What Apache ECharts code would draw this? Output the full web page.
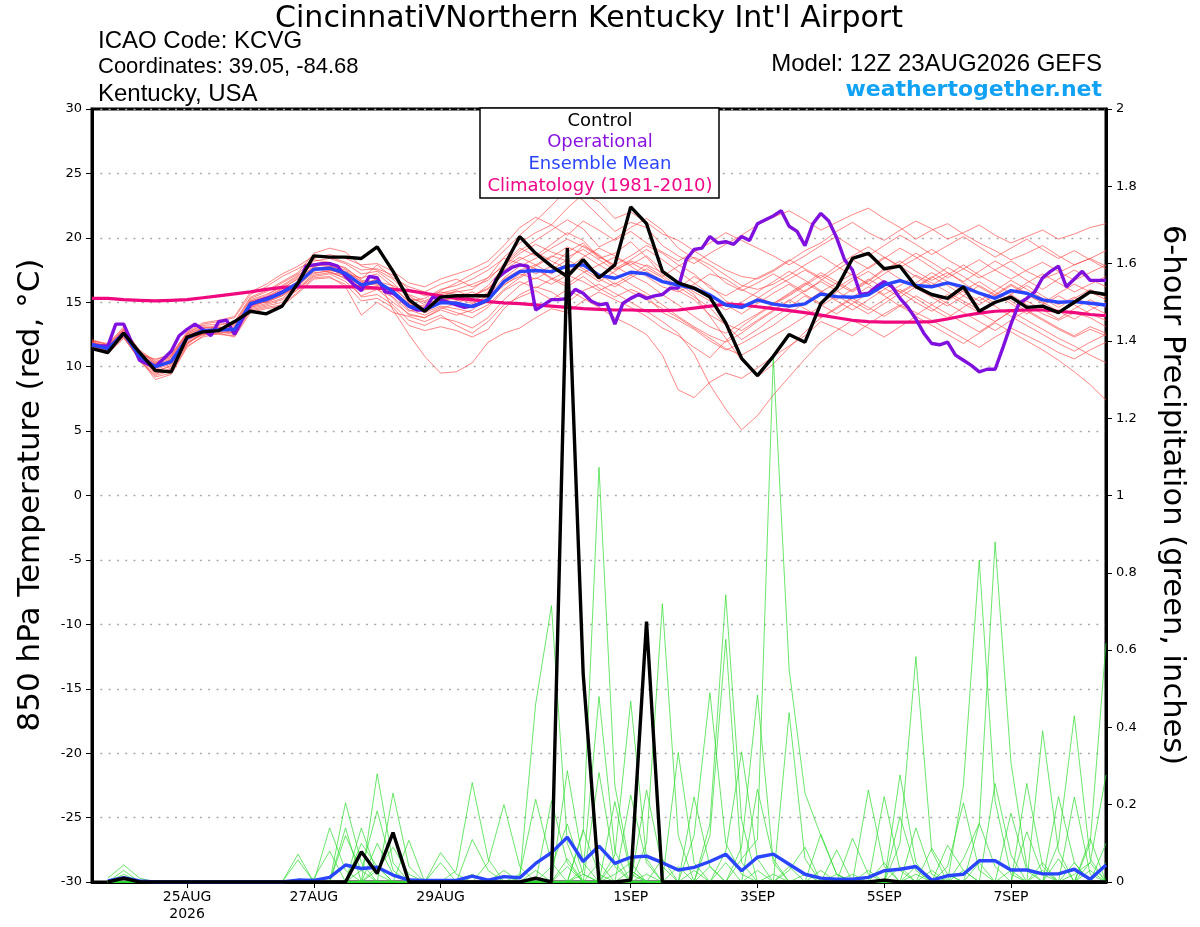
<!DOCTYPE html>
<html><head><meta charset="utf-8">
<script src="https://cdn.jsdelivr.net/npm/echarts@6/dist/echarts.min.js"></script>
<style>html,body{margin:0;padding:0;background:#fff}#c{width:1200px;height:927px}</style>
</head><body><div id="c"></div>
<script>
const FONT = '"DejaVu Sans", "Liberation Sans", Arial, sans-serif';
const FONT2 = '"Liberation Sans", Arial, Helvetica, sans-serif';
// x-axis (forecast hours from 12Z 23AUG2026)
const tickHours = [36, 84, 132, 204, 252, 300, 348];
const tickLabels = ['25AUG\n2026', '27AUG', '29AUG', '1SEP', '3SEP', '5SEP', '7SEP'];
const STEP = 6;      // member / control / mean step, hours
const OPER_STEP = 3; // operational step, hours

// 850 hPa temperature (°C), 6-hourly from 0h
const controlTemp = [11.4,11.1,12.6,11.1,9.7,9.6,12.3,12.7,12.8,13.5,14.3,14.1,14.7,16.5,18.6,18.5,18.5,18.4,19.3,17.4,15.2,14.3,15.4,
 15.5,15.5,15.5,17.8,20.1,18.8,17.8,17.0,18.3,16.9,17.9,22.4,21.1,17.4,16.5,16.1,15.4,13.4,10.65,9.3,
 10.8,12.5,11.9,14.9,16.1,18.4,18.8,17.6,17.8,16.2,15.6,15.3,16.2,14.3,15.0,15.4,14.6,14.7,14.2,15.0,15.8,15.6];
const meanTemp = [11.7,11.4,12.6,10.8,10.0,10.4,12.2,12.8,12.85,12.9,14.9,15.2,15.75,16.5,17.56,17.64,17.25,16.34,16.6,15.82,14.7,14.4,14.97,
 14.92,14.66,15.18,16.6,17.38,17.46,17.38,17.8,17.9,17.1,16.86,17.33,17.2,16.6,16.34,16.08,15.57,14.79,14.6,15.18,
 14.85,14.7,14.87,15.64,15.44,15.39,15.57,16.34,16.68,16.3,16.2,16.5,16.2,15.7,15.31,15.9,15.7,15.18,15.0,15.05,14.92,14.79];
const climTemp = [15.3,15.3,15.2,15.15,15.1,15.15,15.2,15.35,15.5,15.65,15.8,16.0,16.15,16.2,16.2,16.2,16.2,16.2,16.1,16.0,15.9,15.7,15.5,
 15.3,15.2,15.05,14.95,14.9,14.8,14.7,14.6,14.5,14.45,14.4,14.4,14.35,14.35,14.4,14.55,14.7,14.85,14.8,14.65,
 14.5,14.35,14.2,14.0,13.8,13.6,13.5,13.45,13.45,13.45,13.5,13.7,13.95,14.15,14.3,14.35,14.4,14.4,14.3,14.2,14.05,13.95];
// operational, 3-hourly from 0h
const operTemp = [11.7,11.6,11.6,13.3,13.3,11.9,10.5,10.2,10.0,10.6,
 11.2,12.4,12.9,13.3,12.9,12.4,13.5,13.6,12.5,13.7,
 14.8,15.1,15.3,15.5,15.8,16.1,16.3,17.8,17.9,18.0,
 18.0,17.8,17.0,16.4,15.9,17.0,16.9,15.8,15.7,15.2,
 14.7,14.4,14.4,15.4,15.2,15.0,14.8,14.6,14.7,14.9,
 15.2,16.8,17.3,17.7,17.9,17.8,14.4,14.8,15.2,15.2,
 15.3,16.0,15.7,15.1,14.8,14.9,13.3,14.9,15.3,15.6,
 15.3,15.5,15.6,16.1,16.1,18.3,19.1,19.2,20.1,19.6,
 19.7,19.5,20.1,19.8,21.1,21.4,21.7,22.1,20.9,20.5,
 19.4,21.1,21.9,21.3,20.0,18.3,17.5,15.6,15.7,16.2,
 16.6,16.2,15.3,14.6,13.7,12.6,11.8,11.7,11.9,10.9,
 10.5,10.1,9.6,9.8,9.8,11.5,13.3,14.9,15.3,15.8,
 16.9,17.4,17.8,16.2,16.8,17.4,16.7,16.7,16.7];

// ensemble members, temperature (6-hourly from 0h)
const t01 = [11.9,11.6,12.9,11.2,10.3,10.8,12.5,13.1,13.0,13.3,15.2,15.6,16.2,17.0,18.2,18.4,18.0,17.2,17.4,16.5,15.3,15.0,15.6,15.8,16.0,16.9,18.5,19.6,20.4,21.0,22.3,23.4,22.8,21.5,22.0,21.2,20.3,19.8,19.0,18.2,17.5,17.0,16.8,17.4,18.2,19.0,19.6,20.5,21.2,20.4,19.8,20.6,21.3,20.7,19.9,20.4,21.0,20.2,19.6,20.1,20.6,19.9,20.3,20.8,21.1];
const t02 = [11.6,11.2,12.4,10.5,9.4,9.9,11.8,12.5,12.9,12.6,14.5,14.8,15.2,16.0,17.0,17.2,16.6,15.5,16.0,15.0,14.1,13.8,14.5,14.9,15.5,16.1,17.2,18.0,17.6,16.8,16.2,17.0,16.1,15.4,16.0,15.5,14.2,13.6,12.9,12.0,11.3,11.8,12.5,13.2,14.1,15.0,15.8,16.5,17.2,16.4,15.6,16.3,17.1,16.5,15.8,15.1,14.4,14.9,15.6,14.8,14.1,13.6,14.2,13.8,13.1];
const t03 = [12.0,11.8,13.0,11.0,9.9,10.6,12.3,13.0,13.2,13.5,15.4,15.9,16.6,17.3,18.8,19.2,18.9,17.8,17.5,16.8,15.5,14.8,15.9,16.5,17.2,17.8,19.0,20.2,21.3,22.5,23.8,22.9,21.7,20.5,21.2,20.8,19.4,18.6,18.0,18.8,19.5,20.2,21.0,21.6,22.1,21.4,20.6,21.2,21.8,22.3,21.5,20.8,19.9,20.6,21.1,20.3,19.6,19.0,18.3,18.8,19.4,18.6,17.9,18.4,19.0];
const t04 = [11.5,11.0,12.2,10.6,9.0,9.4,11.5,12.4,12.8,12.9,14.3,14.6,14.8,15.8,16.9,17.0,16.2,14.0,15.0,14.2,13.9,13.5,14.0,13.2,12.6,13.5,14.8,15.4,15.9,15.2,16.0,15.3,14.6,13.8,13.2,12.5,10.9,8.2,7.6,8.8,9.5,9.1,9.9,10.8,11.6,12.4,13.5,13.0,12.4,13.3,14.1,14.8,14.2,13.6,12.9,12.2,11.5,12.3,13.0,12.4,11.8,11.1,10.6,11.3,11.9];
const t05 = [11.8,11.5,12.7,11.1,10.5,11.0,12.6,13.3,13.5,13.8,15.6,16.2,17.0,17.6,18.3,18.1,17.6,16.8,17.9,16.9,16.2,15.8,16.4,16.8,16.2,16.7,18.0,19.2,18.6,19.5,20.4,19.8,18.5,17.9,18.6,19.4,18.8,17.9,17.2,16.1,15.5,16.2,16.9,17.5,18.3,17.6,16.9,17.8,18.6,19.3,18.5,17.7,18.4,19.1,18.3,17.6,16.9,17.5,18.2,17.4,16.8,17.3,17.9,18.4,17.8];
const t06 = [11.7,11.3,12.5,10.7,9.6,10.1,12.0,12.6,12.7,12.5,14.6,14.9,15.3,16.3,17.3,17.4,16.8,16.1,16.9,14.4,12.5,10.8,9.5,9.6,10.3,11.9,12.6,13.0,13.8,14.5,14.2,15.1,15.8,15.2,14.6,13.9,13.0,12.4,11.5,10.7,12.0,13.1,14.0,14.8,15.5,16.3,17.1,16.4,15.8,16.6,17.5,18.2,17.4,16.7,17.3,16.5,15.7,14.9,15.6,16.3,15.5,14.8,15.4,14.7,14.1];
const t07 = [12.1,11.7,12.8,10.9,10.2,10.3,12.4,12.9,12.9,13.1,15.0,15.4,16.0,16.9,18.0,17.9,17.0,15.9,16.2,15.6,14.8,14.6,15.2,15.0,14.6,15.0,16.8,17.5,17.9,18.6,18.2,19.4,18.7,17.6,18.3,19.1,18.3,17.4,16.5,15.6,14.8,14.1,14.9,15.7,16.4,15.6,14.9,15.8,16.7,17.4,16.6,15.8,16.5,17.3,16.6,15.8,15.1,15.9,16.7,16.0,15.3,14.6,15.3,16.0,15.4];
const t08 = [11.6,11.4,12.6,10.4,9.3,9.7,11.7,12.7,13.1,12.8,14.8,15.0,15.5,16.2,17.6,17.8,17.4,16.6,16.3,16.1,15.1,15.3,16.0,16.3,16.8,17.5,18.4,18.0,17.2,17.8,18.9,19.6,18.4,18.8,19.7,18.5,17.1,16.2,15.4,14.6,13.2,12.1,12.9,13.8,14.6,15.5,14.8,14.1,14.9,15.7,16.5,15.8,15.0,14.3,15.1,15.9,16.6,15.8,15.1,14.3,13.6,12.9,12.3,12.9,12.4];
const t09 = [11.8,11.5,12.3,10.9,10.6,10.9,12.7,13.4,13.6,13.9,15.8,16.4,17.2,17.8,18.6,18.5,18.1,17.5,17.6,17.1,16.0,15.5,15.8,15.6,15.0,15.8,17.9,19.0,19.8,20.6,21.4,20.7,19.3,19.9,20.8,21.5,20.6,19.2,18.4,17.6,16.5,15.9,16.5,17.2,16.5,15.8,16.7,17.5,18.3,17.6,18.4,19.2,18.5,17.7,16.9,17.6,18.3,17.5,16.8,17.5,18.1,17.4,16.7,17.3,17.9];
const t10 = [11.6,11.2,12.7,10.6,9.8,10.2,12.1,12.6,12.5,12.4,14.4,14.7,15.0,16.0,17.1,17.3,17.1,15.4,15.6,14.8,13.6,13.2,13.8,13.5,13.0,13.8,15.2,16.3,16.9,16.4,17.1,16.6,15.9,16.5,15.8,15.2,14.5,13.8,13.0,12.2,11.4,10.9,11.6,12.4,13.1,13.9,14.7,15.5,14.8,14.1,14.9,15.7,16.4,15.6,14.9,14.2,13.5,12.8,13.6,14.4,13.7,13.0,12.4,13.1,12.6];
const t11 = [11.9,11.6,12.8,11.0,10.1,10.5,12.3,12.8,12.7,12.9,15.1,15.3,15.9,16.6,17.8,17.5,17.2,16.9,17.2,16.2,15.0,14.2,14.7,14.5,14.2,14.8,16.0,16.9,17.6,16.9,16.4,17.3,17.9,18.5,17.8,17.0,16.2,15.8,16.4,17.2,16.8,16.0,15.4,14.9,15.6,16.4,17.3,16.6,15.9,16.7,17.6,16.8,16.1,16.9,17.7,17.0,16.2,15.5,16.3,15.6,14.9,15.7,16.4,15.8,15.2];
const t12 = [11.7,11.3,12.5,10.8,9.7,10.0,11.9,12.5,12.6,12.7,14.7,15.1,15.6,16.4,17.4,17.7,17.3,16.0,16.0,15.4,14.3,14.6,15.1,15.4,15.8,15.2,16.3,17.2,16.8,17.5,18.3,17.6,16.8,16.2,16.9,17.6,16.9,16.1,17.0,16.3,15.1,14.5,15.3,16.1,16.8,17.5,16.8,16.1,16.9,17.7,18.5,17.8,17.0,16.3,17.1,17.9,17.1,16.4,15.7,16.5,17.2,16.5,15.8,16.4,17.0];
const t13 = [11.8,11.5,12.9,11.3,10.4,10.8,12.6,13.2,13.3,13.4,15.3,15.8,16.5,17.2,18.4,18.7,18.4,17.9,18.0,17.4,16.5,16.2,16.8,17.2,17.6,18.2,19.4,20.8,21.6,21.0,20.2,21.3,20.6,19.8,20.5,19.6,18.9,18.2,18.9,19.6,20.4,19.8,19.2,18.6,17.9,18.6,19.4,20.1,19.3,18.6,19.4,20.2,19.5,18.7,19.4,20.1,19.3,18.5,19.2,19.9,19.1,18.4,19.0,18.3,17.6];
const t14 = [11.5,11.1,12.3,10.5,9.2,9.5,11.6,12.3,12.6,12.3,14.2,14.5,14.7,15.7,16.8,16.9,16.4,15.1,15.3,14.6,13.2,12.8,13.1,12.8,12.3,12.9,14.5,15.6,16.2,15.8,15.0,15.9,16.4,15.7,15.0,14.3,13.5,12.6,11.0,8.6,6.7,5.1,6.2,7.8,9.2,10.6,11.9,12.8,13.6,13.0,12.3,13.1,13.9,13.2,12.5,11.8,12.6,13.4,12.7,12.0,11.3,10.5,9.6,8.6,7.4];
const t15 = [12.0,11.7,13.1,11.1,10.3,10.7,12.5,13.0,13.0,13.2,15.1,15.5,16.3,17.1,17.9,17.8,17.5,16.6,16.4,15.9,14.6,14.3,14.9,15.1,15.5,16.0,17.5,18.3,18.9,18.2,17.6,18.5,19.2,18.6,17.9,18.6,17.5,16.6,15.8,15.1,14.4,15.0,15.8,16.6,17.4,16.7,15.9,15.2,16.0,16.8,16.1,15.4,16.2,17.0,16.3,15.5,14.8,15.6,16.4,15.7,15.0,14.3,13.7,14.4,15.0];
const t16 = [11.7,11.4,12.5,10.7,9.9,10.3,12.2,12.8,13.0,12.8,14.9,15.0,15.5,16.4,17.5,17.6,17.0,16.3,16.8,15.7,14.4,14.0,14.6,14.2,13.8,14.6,15.9,16.6,16.1,16.8,17.4,18.0,17.2,16.4,17.1,16.5,15.6,14.8,13.9,13.1,12.6,13.4,14.1,14.9,15.7,16.5,15.8,15.1,14.4,15.2,16.0,16.8,16.1,15.4,14.7,15.5,16.3,15.6,14.9,14.1,14.8,15.5,14.8,14.1,13.6];
const t17 = [11.8,11.6,12.6,10.9,10.0,10.5,12.4,12.9,12.8,13.0,14.8,15.2,15.8,16.6,17.7,17.3,16.9,16.5,16.7,15.3,14.0,13.8,14.4,14.0,14.4,15.3,16.4,17.0,17.8,18.5,19.3,18.7,17.9,17.2,16.4,15.7,14.8,13.9,13.1,12.4,11.9,12.6,13.5,14.3,15.2,14.5,13.8,14.6,15.4,16.2,15.5,14.7,14.0,14.8,15.6,14.9,14.2,13.5,14.3,15.1,14.4,13.7,14.5,15.2,14.6];
const t18 = [11.6,11.3,12.4,10.6,9.5,9.8,11.8,12.6,12.9,12.6,14.6,15.1,15.7,16.1,17.2,17.5,17.2,16.2,16.5,15.9,14.9,14.7,15.4,15.9,15.4,16.3,17.7,18.5,17.9,17.2,18.0,17.4,16.6,17.4,18.2,17.8,17.0,17.8,18.5,17.9,17.1,16.3,16.0,16.4,17.1,17.9,18.6,17.8,17.1,16.4,17.2,18.0,18.8,18.1,17.3,16.6,17.4,18.2,17.5,16.7,16.0,16.8,17.5,16.8,16.2];
const t19 = [11.9,11.5,12.7,11.0,10.2,10.6,12.3,12.7,12.8,13.0,15.0,15.4,16.1,16.8,17.8,18.0,17.7,16.7,16.6,16.3,15.6,15.1,15.7,16.0,16.4,16.9,17.8,18.8,19.5,18.9,18.5,19.1,18.3,17.5,18.1,17.4,16.7,15.9,15.2,14.0,13.3,12.8,13.6,14.4,15.1,15.9,16.6,15.9,15.1,14.4,15.2,16.0,15.3,14.5,13.8,14.6,15.4,14.7,13.9,13.2,12.5,11.8,11.2,11.9,12.5];
const t20 = [11.7,11.4,12.6,10.8,10.1,10.4,12.2,12.7,12.8,12.9,14.9,15.1,15.6,16.5,17.6,17.5,17.2,16.4,16.5,15.7,14.6,14.5,15.2,15.3,14.9,15.5,16.9,17.8,18.4,19.2,19.9,19.3,18.6,17.8,17.1,17.9,17.3,16.5,15.6,13.9,12.2,10.5,9.2,10.2,11.5,12.7,13.8,14.5,15.3,14.6,13.9,14.7,15.5,14.8,14.1,13.4,12.7,13.5,14.3,13.6,12.9,12.2,11.6,10.9,10.3];
const tempMembers = [t01,t02,t03,t04,t05,t06,t07,t08,t09,t10,t11,t12,t13,t14,t15,t16,t17,t18,t19,t20];

// 6-hour precipitation (inches), 6-hourly from 6h
const controlPrcp = [0,.01,0,0,0,0,0,0, 0,0,0,0,0,0,0,0, .078,.022,.128,0,0,0,0,0, 0,0,0,.01,0,1.64,.54,0, 0,.005,.674,0,0,0,0,0, 0,0,0,0,0,0,0,0, 0,.005,0,0,0,0,0,0, 0,0,0,0,0,0,0,0];
const meanPrcp = [.003,.011,.003,0,0,0,0,0, 0,0,0,0,.005,.004,.012,.044, .035,.038,.018,.005,.004,.004,.004,.015, .005,.014,.011,.048,.076,.116,.053,.093, .048,.064,.067,.05,.031,.038,.053,.072, .029,.064,.072,.046,.02,.01,.007,.007, .012,.029,.033,.04,.005,.016,.02,.055, .055,.031,.031,.021,.021,.033,.007,.044];
const p01 = [.01,.044,.01,0,0,0,0,0, 0,0,0,0,0,0,0,0, 0,0,0,0,0,0,.03,.257, .06,0,0,0,0,0,0,0, .02,.05,0,0,0,.12,.49,.1, .02,0,0,0,0,0,0,0, 0,0,0,0,0,.04,.205,.03, 0,0,0,0,0,.05,0,0];
const p02 = [0,.03,0,0,0,0,0,0, 0,0,0,0,0,0,0,0, 0,.04,0,0,0,0,0,.11, .03,0,0,0,0,.04,0,0, 0,0,0,0,0,0,.15,.743, .16,0,0,0,0,0,.02,0, 0,0,0,0,0,0,.25,.833, .21,.02,0,0,0,0,.03,0];
const p03 = [0,.02,0,0,0,0,0,0, 0,0,0,0,0,0,0,0, 0,.03,.09,.02,0,0,0,0, 0,0,0,.03,0,0,0,0, 0,0,0,.06,0,0,.12,.628, .05,0,0,0,0,0,0,0, .03,0,0,0,0,0,.06,.152, .04,0,0,0,.06,0,0,0];
const p04 = [0,.01,0,0,0,0,0,0, 0,0,0,0,0,0,0,0, 0,0,0,0,0,0,0,0, .05,.2,.04,0,0,0,0,.05, 0,0,0,0,0,0,0,.08, .337,.06,0,0,0,0,0,0, 0,.05,0,0,0,0,0,.15, .88,.31,.04,0,0,0,0,0];
const p05 = [0,0,0,0,0,0,0,0, 0,0,0,0,.072,0,0,0, 0,0,0,0,0,0,0,0, 0,0,.02,.214,.05,0,0,0, 0,.03,0,0,0,0,0,0, .09,.484,.05,0,0,0,0,0, 0,0,0,.02,0,0,0,0, .255,.07,0,0,0,.02,.05,0];
const p06 = [0,0,0,0,0,0,0,0, 0,0,0,0,.057,0,0,0, 0,0,0,0,0,0,0,0, 0,0,.01,.46,.715,.1,0,0, 0,0,.02,0,0,0,0,0, 0,.24,.06,0,0,0,0,0, 0,0,.04,0,0,0,0,0, 0,.178,.03,0,0,0,0,0];
const p07 = [0,0,0,0,0,0,0,0, 0,0,0,0,0,0,.14,.03, 0,0,0,0,0,0,0,0, 0,0,0,0,.21,.05,0,0, 0,0,0,0,.04,0,0,0, .06,.11,1.358,.55,.23,.12,.02,0, 0,0,0,0,0,0,0,0, 0,0,0,.05,0,0,0,0];
const p08 = [0,0,0,0,0,0,0,0, 0,0,0,0,0,.01,.08,0, 0,0,0,0,0,0,0,0, 0,0,0,0,0,.288,.05,0, 0,0,0,0,0,.03,0,0, 0,0,0,.438,.06,0,0,0, 0,0,0,0,.03,0,0,0, 0,0,.255,.04,0,0,0,0];
const p09 = [0,0,0,0,0,0,0,0, 0,0,0,0,0,0,0,.205, .05,0,0,0,0,0,0,0, 0,0,0,0,.04,.15,.02,0, 0,0,0,0,0,0,0,.05, 0,0,0,.03,.09,0,0,0, 0,0,0,.04,0,0,0,0, 0,0,.13,.02,0,0,0,.05];
const p10 = [0,0,0,0,0,0,0,0, 0,0,0,0,0,0,0,.12, .03,0,0,0,0,0,0,0, 0,0,0,0,0,0,.135,.02, 0,0,0,0,0,0,.04,0, 0,0,0,0,0,.124,.02,0, 0,0,0,0,0,.02,0,0, 0,0,0,.391,.08,0,0,0];
const p11 = [0,0,0,0,0,0,0,0, 0,0,0,0,0,0,0,.14, 0,0,0,0,0,0,0,.02, 0,0,0,0,0,0,.13,1.073, .25,.03,0,0,0,0,0,0, 0,0,0,0,0,0,.083,0, 0,0,0,0,0,0,.03,0, 0,0,0,0,.221,.05,0,0];
const p12 = [0,0,0,0,0,0,0,0, 0,0,0,0,0,0,0,0, .14,.02,0,0,0,0,0,0, 0,0,0,0,0,0,.03,.48, .08,0,0,0,0,0,0,0, 0,0,.02,0,0,0,0,.113, .02,0,0,0,0,0,0,0, 0,0,0,0,.1,.43,.06,0];
const p13 = [0,0,0,0,0,0,0,0, 0,0,0,0,0,0,0,0, .1,.04,0,0,0,0,0,0, 0,0,0,0,0,0,0,.283, .04,0,0,0,0,0,0,0, 0,.03,0,0,0,0,0,0, .238,.04,0,0,0,0,0,0, 0,0,0,0,0,.22,.02,0];
const p14 = [0,0,0,0,0,0,0,0, 0,0,0,0,0,0,0,0, 0,.28,.05,0,0,0,0,0, 0,0,0,0,0,0,0,0, .208,.02,0,0,0,0,0,0, 0,0,0,0,.02,0,0,0, 0,.221,.03,0,0,0,0,0, 0,0,0,0,0,0,.113,0];
const p15 = [0,0,0,0,0,0,0,0, 0,0,0,0,0,0,0,0, .03,.184,.03,0,0,0,0,0, 0,0,0,0,0,0,0,0, .07,.468,.06,0,0,0,0,0, 0,0,0,.04,0,0,0,0, 0,0,.277,.05,0,0,0,0, 0,0,0,0,0,0,.1,.618];
const p16 = [0,0,0,0,0,0,0,0, 0,0,0,0,0,0,0,0, 0,.1,.02,0,0,0,0,0, 0,0,0,0,0,0,0,0, 0,.225,.05,0,0,0,0,0, 0,0,0,0,0,.03,0,0, 0,0,.169,.03,0,0,0,0, 0,0,0,0,0,0,.05,.277];
const p17 = [0,0,0,0,0,0,0,0, 0,0,0,0,0,0,0,0, 0,0,.23,.04,0,0,0,0, 0,0,0,0,0,0,0,0, 0,0,.238,.04,0,0,0,0, 0,0,0,0,0,0,0,.02, 0,0,.1,.583,.08,0,0,0, 0,.03,0,0,0,0,0,0];
const p18 = [0,0,0,0,0,0,0,0, 0,0,0,0,0,0,0,0, 0,0,0,.108,0,0,0,0, 0,0,0,0,0,.06,0,0, 0,0,.1,.72,.12,0,0,0, 0,0,0,0,0,0,0,0, 0,0,0,.14,.02,0,0,.05, 0,0,0,0,0,0,0,0];
const p19 = [0,0,0,0,0,0,0,0, 0,0,0,0,0,0,0,0, 0,0,0,0,0,.076,.02,0, 0,0,0,0,0,0,.02,0, 0,0,0,0,.335,.05,0,0, 0,0,0,0,0,0,0,0, 0,0,0,0,.087,.02,0,0, 0,0,0,.03,0,0,0,0];
const p20 = [0,0,0,0,0,0,0,0, 0,0,0,0,0,0,0,0, 0,0,0,0,0,.05,0,0, 0,.03,0,0,0,0,0,0, .05,0,0,0,0,.22,.04,0, 0,0,0,0,0,0,0,0, 0,0,0,0,0,.095,.03,0, 0,0,0,0,0,0,0,.1];
const prcpMembers = [p01,p02,p03,p04,p05,p06,p07,p08,p09,p10,p11,p12,p13,p14,p15,p16,p17,p18,p19,p20];

const C = { red:'#ff4a4a', green:'#2fdc2f', ctrl:'#000000', oper:'#8010dd', mean:'#2a45ff', clim:'#f0087f', site:'#12a2f4' };

function temps(arr, step){ return arr.map((v,i)=>[i*step, v]); }
function prcp(arr){ return arr.map((v,i)=>[(i+1)*STEP, v]); }
const base = { type:'line', showSymbol:false, symbol:'none', silent:true, animation:false, clip:true };

const series = [];
tempMembers.forEach((a,k)=>series.push(Object.assign({}, base, {name:'T member '+(k+1), yAxisIndex:0, data:temps(a,STEP), lineStyle:{color:C.red, width:0.8, opacity:0.85}})));
prcpMembers.forEach((a,k)=>series.push(Object.assign({}, base, {name:'P member '+(k+1), yAxisIndex:1, data:prcp(a), lineStyle:{color:C.green, width:0.8, opacity:0.9}})));
series.push(Object.assign({}, base, {name:'Climatology (1981-2010)', yAxisIndex:0, data:temps(climTemp,STEP), lineStyle:{color:C.clim, width:3.2}}));
series.push(Object.assign({}, base, {name:'Operational', yAxisIndex:0, data:temps(operTemp,OPER_STEP), lineStyle:{color:C.oper, width:3.4}}));
series.push(Object.assign({}, base, {name:'Ensemble Mean', yAxisIndex:0, data:temps(meanTemp,STEP), lineStyle:{color:C.mean, width:3.4}}));
series.push(Object.assign({}, base, {name:'Control', yAxisIndex:0, data:temps(controlTemp,STEP), lineStyle:{color:C.ctrl, width:3.4}}));
series.push(Object.assign({}, base, {name:'Ensemble Mean precip', yAxisIndex:1, data:prcp(meanPrcp), lineStyle:{color:C.mean, width:3.4}}));
series.push(Object.assign({}, base, {name:'Control precip', yAxisIndex:1, data:prcp(controlPrcp), lineStyle:{color:C.ctrl, width:3.4}}));

const axisLine = { show:true, onZero:false, lineStyle:{color:'#000', width:3} };
function txt(x, y, text, font, fill, align, extra){
  return Object.assign({type:'text', x, y, z:100, style:{text, font, fill, textAlign:align, textVerticalAlign:'middle', align, verticalAlign:'middle'}}, extra||{});
}
const option = {
  backgroundColor:'#fff',
  animation:false,
  textStyle:{fontFamily:FONT},
  grid:{left:92, right:94, top:109, bottom:45, show:true, borderColor:'#000', borderWidth:3, backgroundColor:'transparent'},
  xAxis:{type:'value', min:0, max:384, axisLine,
    splitLine:{show:false},
    axisTick:{show:true, customValues:tickHours, length:6, lineStyle:{color:'#000', width:1}},
    axisLabel:{customValues:tickHours, color:'#000', fontFamily:FONT, fontSize:14, lineHeight:17, margin:7,
      formatter:v=>{const k=tickHours.indexOf(Math.round(v)); return k>=0?tickLabels[k]:'';}}},
  yAxis:[
    {type:'value', position:'left', min:-30, max:30, interval:5, axisLine,
     axisTick:{show:true, length:6, lineStyle:{color:'#000', width:1}},
     axisLabel:{color:'#000', fontFamily:FONT, fontSize:13, margin:10},
     splitLine:{show:true, lineStyle:{color:'#aaaaaa', width:1.3, type:[2,6.3]}}},
    {type:'value', position:'right', min:0, max:2, interval:0.2, axisLine,
     axisTick:{show:true, length:6, lineStyle:{color:'#000', width:1}},
     axisLabel:{color:'#000', fontFamily:FONT, fontSize:13, margin:10, formatter:v=>String(Math.round(v*10)/10)},
     splitLine:{show:false}}
  ],
  series,
  graphic:[
    txt(589, 19, 'CincinnatiVNorthern Kentucky Int\'l Airport', '30px '+FONT, '#000', 'center'),
    txt(98, 41, 'ICAO Code: KCVG', '24px '+FONT2, '#000', 'left'),
    txt(98, 67, 'Coordinates: 39.05, -84.68', '22px '+FONT2, '#000', 'left'),
    txt(98, 94, 'Kentucky, USA', '24px '+FONT2, '#000', 'left'),
    txt(1102, 64, 'Model: 12Z 23AUG2026 GEFS', '24px '+FONT2, '#000', 'right'),
    txt(1102, 90, 'weathertogether.net', 'bold 22px '+FONT, C.site, 'right'),
    {type:'rect', z:100, shape:{x:480, y:108, width:239, height:90}, style:{fill:'#fff', stroke:'#000', lineWidth:1.5}},
    txt(600, 121, 'Control', '18px '+FONT, '#000', 'center', {z:101}),
    txt(600, 142, 'Operational', '18px '+FONT, '#8a12e0', 'center', {z:101}),
    txt(600, 164, 'Ensemble Mean', '18px '+FONT, '#2b45ff', 'center', {z:101}),
    txt(600, 186, 'Climatology (1981-2010)', '18px '+FONT, '#f0078a', 'center', {z:101}),
    txt(31, 495, '850 hPa Temperature (red, °C)', '31px '+FONT, '#000', 'center', {rotation:Math.PI/2}),
    txt(1172, 495, '6-hour Precipitation (green, inches)', '30.5px '+FONT, '#000', 'center', {rotation:-Math.PI/2})
  ]
};
const chart = echarts.init(document.getElementById('c'), null, {renderer:'canvas'});
chart.setOption(option);
</script></body></html>
